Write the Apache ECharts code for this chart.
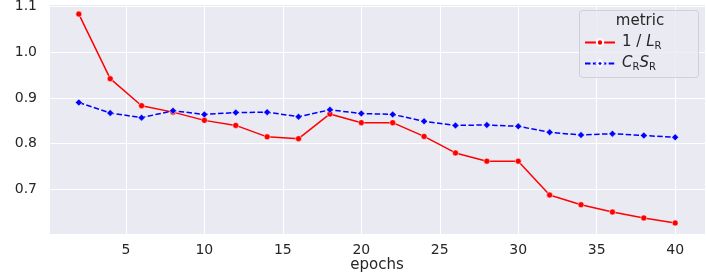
<!DOCTYPE html>
<html>
<head>
<meta charset="utf-8">
<script src="https://cdn.jsdelivr.net/npm/echarts@6/dist/echarts.min.js"></script>
<style>
  html, body { margin: 0; padding: 0; background: #fff; }
  #chart { width: 706px; height: 275px; }
</style>
</head>
<body>
<div id="chart"></div>
<script>
// epochs
const epochs = [2, 4, 6, 8, 10, 12, 14, 16, 18, 20, 22, 24, 26, 28, 30, 32, 34, 36, 38, 40];
// 1 / L_R
const invL = [1.083, 0.942, 0.883, 0.869, 0.851, 0.840, 0.815, 0.811, 0.865, 0.846,
  0.846, 0.816, 0.780, 0.762, 0.762, 0.688, 0.667, 0.651, 0.638, 0.627];
// C_R S_R
const crsr = [0.890, 0.867, 0.857, 0.872, 0.864, 0.868, 0.869, 0.859, 0.874, 0.866,
  0.864, 0.849, 0.840, 0.841, 0.838, 0.825, 0.819, 0.822, 0.818, 0.814];

const textColor = '#262626';
const font = 'DejaVu Sans';

const chart = echarts.init(document.getElementById('chart'));

function pairs(ys) {
  return epochs.map((x, i) => [x, ys[i]]);
}

function tickLabel(step, digits) {
  return v => {
    const k = v / step;
    return Math.abs(k - Math.round(k)) < 1e-6 ? v.toFixed(digits) : '';
  };
}

const legendRich = {
  n: { fontFamily: font, fontSize: 15, color: textColor },
  i: { fontFamily: font, fontSize: 15, fontStyle: 'italic', color: textColor },
  s: { fontFamily: font, fontSize: 10, color: textColor, padding: [7, 0, 0, 0] }
};

function legendFor(name, top) {
  return {
    data: [name],
    left: 584,
    top: top,
    itemWidth: 30,
    itemHeight: 8,
    itemGap: 11,
    padding: 0,
    formatter: n => n === 'inv' ? '{n|1 / }{i|L}{s|R}' : '{i|C}{s|R}{i|S}{s|R}',
    textStyle: { rich: legendRich, padding: [0, 0, 0, 2] }
  };
}

chart.setOption({
  backgroundColor: '#ffffff',
  animation: false,
  grid: { left: 49, right: 1, top: 4, bottom: 41, outerBoundsMode: 'none', containLabel: false,
    backgroundColor: '#eaeaf2', show: true, borderWidth: 0 },
  xAxis: {
    type: 'value',
    min: 0.1,
    max: 41.9,
    minInterval: 5,
    maxInterval: 5,
    axisLine: { show: false },
    axisTick: { show: false },
    axisLabel: { fontFamily: font, fontSize: 14, color: textColor, margin: 9,
      showMinLabel: false, showMaxLabel: false, formatter: tickLabel(5, 0) },
    splitLine: { show: true, lineStyle: { color: '#ffffff', width: 1 } }
  },
  yAxis: {
    type: 'value',
    min: 0.603,
    max: 1.105,
    minInterval: 0.1,
    maxInterval: 0.1,
    axisLine: { show: false },
    axisTick: { show: false },
    axisLabel: { fontFamily: font, fontSize: 14, color: textColor, margin: 12,
      showMinLabel: false, showMaxLabel: false, formatter: tickLabel(0.1, 1) },
    splitLine: { show: true, lineStyle: { color: '#ffffff', width: 1 } }
  },
  legend: [legendFor('inv', 35), legendFor('crsr', 56)],
  graphic: [
    {
      type: 'rect', z: 3,
      shape: { x: 579.5, y: 10.5, width: 119, height: 67, r: 3 },
      style: { fill: 'rgba(234,234,242,0.8)', stroke: '#d0d0d6', lineWidth: 1 }
    },
    {
      type: 'text', z: 4, x: 640, y: 14,
      style: { text: 'metric', fontFamily: font, fontSize: 15, fill: textColor, align: 'center', verticalAlign: 'top' }
    },
    {
      // axis title
      type: 'text', z: 4, x: 377, y: 258,
      style: { text: 'epochs', fontFamily: font, fontSize: 15, fill: textColor, align: 'center', verticalAlign: 'top' }
    }
  ],
  series: [
    {
      name: 'inv', type: 'line', data: pairs(invL),
      symbol: 'circle', symbolSize: 6,
      lineStyle: { color: '#ff0000', width: 1.5 },
      itemStyle: { color: '#ff0000', borderColor: '#ffffff', borderWidth: 0.5 }
    },
    {
      name: 'crsr', type: 'line', data: pairs(crsr),
      symbol: 'diamond', symbolSize: 7,
      lineStyle: { color: '#0000ff', width: 1.5, type: [5.5, 2.4] },
      itemStyle: { color: '#0000ff', borderColor: '#ffffff', borderWidth: 0.5 }
    }
  ]
});
</script>
</body>
</html>
